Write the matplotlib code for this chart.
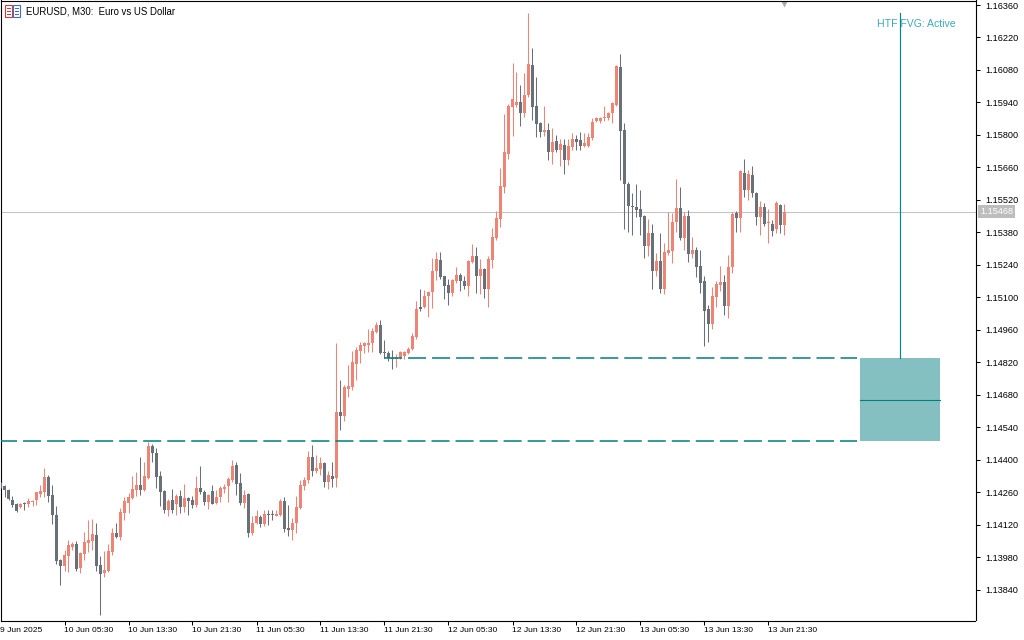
import numpy as np
import matplotlib
matplotlib.use("Agg")
import matplotlib.pyplot as plt
from matplotlib.patches import Rectangle
from matplotlib.transforms import blended_transform_factory

plt.rcParams["font.family"] = ["Liberation Sans", "DejaVu Sans"]
plt.rcParams["lines.scale_dashes"] = False

title = "EURUSD, M30:  Euro vs US Dollar"
time_labels = ["9 Jun 2025", "10 Jun 05:30", "10 Jun 13:30", "10 Jun 21:30",
               "11 Jun 05:30", "11 Jun 13:30", "11 Jun 21:30", "12 Jun 05:30",
               "12 Jun 13:30", "12 Jun 21:30", "13 Jun 05:30", "13 Jun 13:30",
               "13 Jun 21:30"]
bars_per_label = 16
price_ticks = [1.13840, 1.13980, 1.14120, 1.14260, 1.14400, 1.14540, 1.14680,
               1.14820, 1.14960, 1.15100, 1.15240, 1.15380, 1.15520, 1.15660,
               1.15800, 1.15940, 1.16080, 1.16220, 1.16360]

opens = [
    1.14297, 1.14287, 1.14270, 1.14227, 1.14208, 1.14198, 1.14209, 1.14209, 1.14219, 1.14227,
    1.14254, 1.14263, 1.14326, 1.14248, 1.14162, 1.13967, 1.13941, 1.13986, 1.14025, 1.14037,
    1.13933, 1.13995, 1.14042, 1.14051, 1.14076, 1.13945, 1.13913, 1.13922, 1.14002, 1.14084,
    1.14068, 1.14172, 1.14215, 1.14237, 1.14270, 1.14291, 1.14270, 1.14323, 1.14461, 1.14431,
    1.14330, 1.14265, 1.14184, 1.14227, 1.14209, 1.14245, 1.14198, 1.14234, 1.14227, 1.14205,
    1.14277, 1.14261, 1.14219, 1.14265, 1.14212, 1.14241, 1.14274, 1.14287, 1.14313, 1.14378,
    1.14301, 1.14215, 1.14252, 1.14086, 1.14127, 1.14152, 1.14123, 1.14166, 1.14162, 1.14158,
    1.14162, 1.14222, 1.14106, 1.14097, 1.14129, 1.14191, 1.14287, 1.14313, 1.14412, 1.14353,
    1.14362, 1.14388, 1.14305, 1.14330, 1.14323, 1.14606, 1.14589, 1.14706, 1.14712, 1.14813,
    1.14869, 1.14892, 1.14895, 1.14902, 1.14951, 1.14982, 1.14864, 1.14861, 1.14838, 1.14834,
    1.14838, 1.14848, 1.14861, 1.14877, 1.14930, 1.15060, 1.15060, 1.15107, 1.15122, 1.15214,
    1.15262, 1.15190, 1.15155, 1.15117, 1.15169, 1.15198, 1.15170, 1.15149, 1.15254, 1.15278,
    1.15192, 1.15222, 1.15136, 1.15262, 1.15357, 1.15438, 1.15577, 1.15718, 1.15922, 1.15929,
    1.15943, 1.15893, 1.15972, 1.16102, 1.15925, 1.15853, 1.15814, 1.15821, 1.15728, 1.15774,
    1.15735, 1.15757, 1.15691, 1.15746, 1.15781, 1.15778, 1.15754, 1.15752, 1.15788, 1.15861,
    1.15861, 1.15875, 1.15875, 1.15896, 1.15929, 1.16091, 1.15821, 1.15589, 1.15494, 1.15491,
    1.15480, 1.15451, 1.15321, 1.15379, 1.15215, 1.15257, 1.15136, 1.15293, 1.15301, 1.15426,
    1.15486, 1.15357, 1.15451, 1.15287, 1.15304, 1.15235, 1.15170, 1.15050, 1.14985, 1.15103,
    1.15155, 1.15166, 1.15064, 1.15232, 1.15465, 1.15443, 1.15637, 1.15563, 1.15627, 1.15551,
    1.15448, 1.15491, 1.15419, 1.15416, 1.15395, 1.15498, 1.15412,
]
highs = [
    1.14304, 1.14293, 1.14275, 1.14244, 1.14215, 1.14214, 1.14219, 1.14234, 1.14227, 1.14263,
    1.14291, 1.14365, 1.14336, 1.14291, 1.14201, 1.13971, 1.14010, 1.14054, 1.14045, 1.14051,
    1.14003, 1.14088, 1.14140, 1.14146, 1.14127, 1.13985, 1.14006, 1.14035, 1.14104, 1.14126,
    1.14193, 1.14241, 1.14256, 1.14331, 1.14347, 1.14412, 1.14389, 1.14478, 1.14466, 1.14450,
    1.14353, 1.14268, 1.14230, 1.14273, 1.14252, 1.14270, 1.14294, 1.14241, 1.14245, 1.14330,
    1.14371, 1.14270, 1.14252, 1.14291, 1.14270, 1.14287, 1.14294, 1.14327, 1.14399, 1.14392,
    1.14342, 1.14270, 1.14256, 1.14158, 1.14184, 1.14162, 1.14184, 1.14184, 1.14184, 1.14184,
    1.14230, 1.14241, 1.14205, 1.14148, 1.14244, 1.14313, 1.14327, 1.14438, 1.14463, 1.14421,
    1.14412, 1.14392, 1.14352, 1.14392, 1.14903, 1.14744, 1.14722, 1.14809, 1.14870, 1.14887,
    1.14906, 1.14906, 1.14962, 1.14967, 1.14995, 1.15002, 1.14916, 1.14870, 1.14873, 1.14856,
    1.14870, 1.14869, 1.14887, 1.14947, 1.15085, 1.15136, 1.15131, 1.15129, 1.15271, 1.15295,
    1.15295, 1.15194, 1.15181, 1.15177, 1.15230, 1.15205, 1.15192, 1.15262, 1.15330, 1.15317,
    1.15264, 1.15226, 1.15278, 1.15398, 1.15474, 1.15658, 1.15890, 1.15932, 1.16111, 1.16073,
    1.16015, 1.16068, 1.16327, 1.16173, 1.16051, 1.15856, 1.15925, 1.15853, 1.15829, 1.15801,
    1.15781, 1.15781, 1.15781, 1.15810, 1.15801, 1.15814, 1.15807, 1.15810, 1.15875, 1.15879,
    1.15879, 1.15924, 1.15900, 1.15943, 1.16102, 1.16149, 1.15853, 1.15599, 1.15551, 1.15589,
    1.15563, 1.15455, 1.15438, 1.15416, 1.15293, 1.15376, 1.15333, 1.15468, 1.15465, 1.15610,
    1.15577, 1.15468, 1.15477, 1.15359, 1.15316, 1.15304, 1.15192, 1.15067, 1.15146, 1.15170,
    1.15235, 1.15198, 1.15282, 1.15468, 1.15472, 1.15651, 1.15696, 1.15648, 1.15666, 1.15555,
    1.15515, 1.15505, 1.15480, 1.15433, 1.15515, 1.15502, 1.15502,
]
lows = [
    1.14278, 1.14241, 1.14227, 1.14196, 1.14176, 1.14192, 1.14184, 1.14198, 1.14202, 1.14205,
    1.14241, 1.14241, 1.14219, 1.14123, 1.13950, 1.13859, 1.13920, 1.13917, 1.14010, 1.13922,
    1.13913, 1.13967, 1.14003, 1.14010, 1.13922, 1.13731, 1.13896, 1.13917, 1.13989, 1.14061,
    1.14054, 1.14140, 1.14169, 1.14231, 1.14244, 1.14248, 1.14265, 1.14317, 1.14389, 1.14277,
    1.14202, 1.14169, 1.14159, 1.14169, 1.14162, 1.14169, 1.14176, 1.14162, 1.14191, 1.14198,
    1.14252, 1.14205, 1.14188, 1.14209, 1.14209, 1.14219, 1.14256, 1.14219, 1.14305, 1.14248,
    1.14205, 1.14191, 1.14066, 1.14076, 1.14123, 1.14111, 1.14114, 1.14119, 1.14140, 1.14156,
    1.14158, 1.14090, 1.14071, 1.14054, 1.14086, 1.14187, 1.14270, 1.14301, 1.14330, 1.14344,
    1.14335, 1.14284, 1.14273, 1.14281, 1.14284, 1.14528, 1.14568, 1.14672, 1.14701, 1.14744,
    1.14816, 1.14861, 1.14865, 1.14865, 1.14945, 1.14856, 1.14838, 1.14824, 1.14791, 1.14800,
    1.14834, 1.14834, 1.14856, 1.14873, 1.14921, 1.15043, 1.15053, 1.15014, 1.15055, 1.15174,
    1.15179, 1.15094, 1.15067, 1.15107, 1.15162, 1.15126, 1.15134, 1.15107, 1.15247, 1.15118,
    1.15113, 1.15099, 1.15060, 1.15225, 1.15347, 1.15404, 1.15548, 1.15695, 1.15795, 1.15922,
    1.15839, 1.15879, 1.15965, 1.15864, 1.15792, 1.15792, 1.15795, 1.15691, 1.15674, 1.15727,
    1.15667, 1.15632, 1.15670, 1.15737, 1.15737, 1.15735, 1.15749, 1.15749, 1.15778, 1.15857,
    1.15853, 1.15861, 1.15864, 1.15853, 1.15924, 1.15606, 1.15395, 1.15383, 1.15369, 1.15448,
    1.15369, 1.15271, 1.15278, 1.15136, 1.15190, 1.15118, 1.15114, 1.15282, 1.15247, 1.15383,
    1.15347, 1.15304, 1.15254, 1.15268, 1.15186, 1.15120, 1.14890, 1.14906, 1.14964, 1.15060,
    1.15129, 1.15024, 1.15012, 1.15206, 1.15383, 1.15383, 1.15534, 1.15520, 1.15534, 1.15412,
    1.15369, 1.15407, 1.15334, 1.15365, 1.15379, 1.15376, 1.15369,
]
closes = [
    1.14284, 1.14271, 1.14232, 1.14205, 1.14180, 1.14209, 1.14208, 1.14222, 1.14224, 1.14261,
    1.14267, 1.14326, 1.14245, 1.14162, 1.13964, 1.13941, 1.13989, 1.14032, 1.14038, 1.13929,
    1.13999, 1.14045, 1.14054, 1.14080, 1.13942, 1.13907, 1.13925, 1.14006, 1.14084, 1.14068,
    1.14176, 1.14222, 1.14240, 1.14274, 1.14291, 1.14270, 1.14330, 1.14461, 1.14431, 1.14327,
    1.14263, 1.14184, 1.14224, 1.14184, 1.14244, 1.14198, 1.14234, 1.14224, 1.14206, 1.14277,
    1.14260, 1.14219, 1.14248, 1.14211, 1.14241, 1.14277, 1.14284, 1.14317, 1.14375, 1.14295,
    1.14215, 1.14248, 1.14083, 1.14127, 1.14158, 1.14123, 1.14166, 1.14162, 1.14160, 1.14166,
    1.14222, 1.14103, 1.14097, 1.14129, 1.14198, 1.14291, 1.14313, 1.14412, 1.14353, 1.14366,
    1.14388, 1.14305, 1.14335, 1.14317, 1.14606, 1.14589, 1.14712, 1.14718, 1.14821, 1.14873,
    1.14895, 1.14902, 1.14905, 1.14955, 1.14982, 1.14861, 1.14861, 1.14838, 1.14834, 1.14845,
    1.14865, 1.14865, 1.14877, 1.14933, 1.15050, 1.15050, 1.15107, 1.15122, 1.15214, 1.15266,
    1.15186, 1.15147, 1.15117, 1.15173, 1.15198, 1.15169, 1.15149, 1.15257, 1.15278, 1.15192,
    1.15222, 1.15136, 1.15266, 1.15359, 1.15441, 1.15580, 1.15728, 1.15925, 1.15955, 1.15943,
    1.15893, 1.15972, 1.16106, 1.15922, 1.15846, 1.15814, 1.15821, 1.15728, 1.15770, 1.15735,
    1.15761, 1.15690, 1.15752, 1.15781, 1.15771, 1.15754, 1.15764, 1.15792, 1.15857, 1.15871,
    1.15875, 1.15879, 1.15896, 1.15939, 1.16097, 1.15817, 1.15587, 1.15495, 1.15491, 1.15477,
    1.15448, 1.15321, 1.15379, 1.15215, 1.15257, 1.15136, 1.15296, 1.15304, 1.15426, 1.15486,
    1.15357, 1.15451, 1.15287, 1.15304, 1.15232, 1.15163, 1.15041, 1.14985, 1.15107, 1.15158,
    1.15166, 1.15064, 1.15232, 1.15459, 1.15443, 1.15645, 1.15563, 1.15630, 1.15548, 1.15448,
    1.15491, 1.15416, 1.15422, 1.15387, 1.15508, 1.15412, 1.15468,
]

current_price = 1.15468
fvg_top = 1.14838
fvg_bottom = 1.14481
fvg_mid = 1.14659
fvg_line_top = 1.16326
fvg_text = "HTF FVG: Active"

# object anchors in bar units (future bars to the right of the last candle)
upper_line_start = 95.9
lines_end = 214.1
box_left, box_right = 214.9, 234.9
text_x, text_y = 219.1, 1.16278

BULL = "#F08474"
BEAR = "#6A7077"
TEAL = "#00807C"

W, H = 1024, 640
fig = plt.figure(figsize=(W / 100, H / 100), dpi=100)
ax = fig.add_axes([1 / W, 19.5 / H, 974.5 / W, 620 / H])
ax.set_xlim(0.125, 243.75)
ax.set_ylim(1.137072, 1.163794)

o = np.array(opens); h = np.array(highs); l = np.array(lows); c = np.array(closes)
x = np.arange(len(o))
cols = np.where(c >= o, BULL, BEAR)
one_px = (1.163794 - 1.137072) / 620
body_lo = np.minimum(o, c)
body_h = np.maximum(np.abs(c - o), one_px)
ax.vlines(x, l, h, colors=cols, linewidth=0.75, zorder=3)
ax.bar(x, body_h, bottom=body_lo, width=0.75, color=cols, linewidth=0, zorder=4)

# current price line
ax.axhline(current_price, color="#C3C3C3", linewidth=0.75, zorder=1)

# FVG box and lines
ax.add_patch(Rectangle((box_left, fvg_bottom), box_right - box_left, fvg_top - fvg_bottom,
                       facecolor="#84C0C1", edgecolor="none", zorder=2))
ax.plot([box_left, box_right], [fvg_mid, fvg_mid], color=TEAL, linewidth=0.8, zorder=3)
ax.plot([-5, lines_end], [fvg_bottom, fvg_bottom], color=TEAL, linewidth=1.1,
        dashes=(13, 4.3), zorder=5)
ax.plot([upper_line_start, lines_end], [fvg_top, fvg_top], color=TEAL, linewidth=1.1,
        dashes=(13, 4.3), zorder=5)
mid_x = (box_left + box_right) / 2
ax.plot([mid_x, mid_x], [fvg_top, fvg_line_top], color="#00868C", linewidth=0.85, zorder=3)
ax.text(text_x, text_y, fvg_text, color="#3FA9B9", fontsize=7.6, va="center", ha="left", zorder=6)

# chart-shift marker
ax.plot([len(o) - 1], [1 - 3 / 620], marker="v", ms=5, color="#A9A9A9", mec="none",
        transform=blended_transform_factory(ax.transData, ax.transAxes), clip_on=False)

for s in ax.spines.values():
    s.set_linewidth(0.8)
    s.set_color("black")

ax.yaxis.tick_right()
ax.set_yticks(price_ticks)
ax.set_yticklabels([f"{p:.5f}" for p in price_ticks])
ax.tick_params(axis="y", direction="out", length=3, width=0.75, pad=3.8, labelsize=6.6)

tick_pos = list(range(bars_per_label, len(o), bars_per_label))
ax.set_xticks(tick_pos)
ax.set_xticklabels(time_labels[1:len(tick_pos) + 1])
ax.tick_params(axis="x", direction="out", length=3, width=0.75, pad=1.8, labelsize=6.1)
for t in ax.get_xticklabels():
    t.set_ha("left")
ax.annotate(time_labels[0], xy=(0, 0), xycoords=("data", "axes fraction"),
            xytext=(0, -4.8), textcoords="offset points", va="top", ha="left",
            fontsize=6.1, annotation_clip=False)

# current price tag on the axis
ax.annotate(f"{current_price:.5f}", xy=(1, current_price), xycoords=("axes fraction", "data"),
            xytext=(3.5, 0), textcoords="offset points", va="center", ha="left",
            fontsize=6.6, color="white", annotation_clip=False,
            bbox=dict(boxstyle="square,pad=0.22", fc="#BDBDBD", ec="none"))

# title and little symbol icon
fig.text(26 / W, 1 - 11.5 / H, title, fontsize=6.9, va="center", ha="left")
for k, col in enumerate(["#D83A3A", "#3A6FD0"]):
    x0 = 5 + k * 8
    fig.add_artist(Rectangle((x0 / W, 1 - 17 / H), 7 / W, 12 / H, transform=fig.transFigure,
                             facecolor="white", edgecolor=col, linewidth=0.8))
    for yy in (8, 11, 14):
        fig.add_artist(Rectangle(((x0 + 1.5) / W, 1 - (yy + 1) / H), 4 / W, 1.5 / H,
                                 transform=fig.transFigure, facecolor=col, edgecolor="none"))

fig.savefig("out.png", dpi=100)
